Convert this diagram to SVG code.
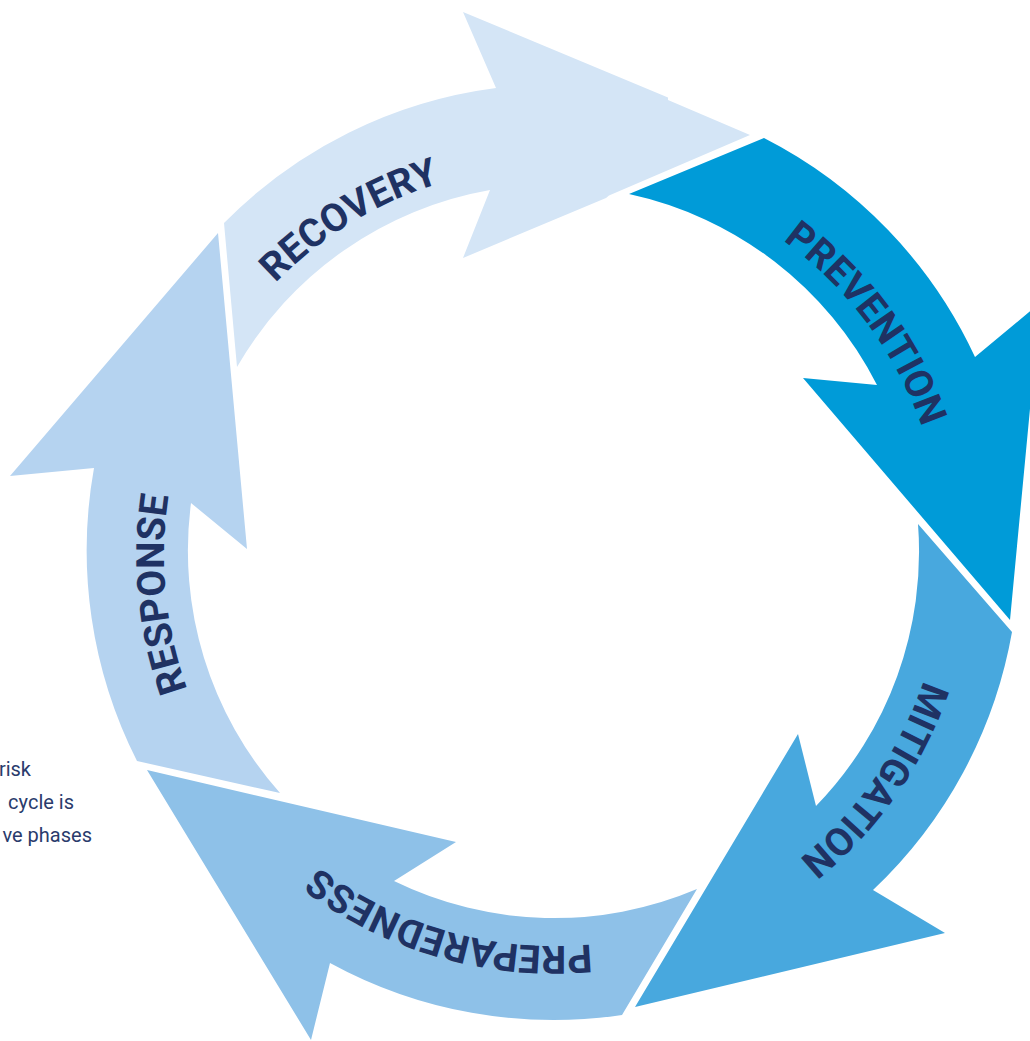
<svg xmlns="http://www.w3.org/2000/svg" xmlns:xlink="http://www.w3.org/1999/xlink" width="1030" height="1041" viewBox="0 0 1030 1041">
  <style>
    .label { font-family: Roboto, "Liberation Sans", sans-serif; font-weight: 700; font-size: 39px; letter-spacing: 0px; fill: #1F3263; }
    .note { font-family: Roboto, "Liberation Sans", sans-serif; font-size: 20px; fill: #2A3B6C; text-anchor: end; }
    .recovery { fill: #D4E5F6; }
    .prevention { fill: #009BD8; }
    .mitigation { fill: #48A8DE; }
    .preparedness { fill: #8EC1E8; }
    .response { fill: #B5D3F0; }
  </style>
  <defs>
    <!-- clockwise baseline circle for the phase labels, centre (554,556) -->
    <path id="ring" d="M944,556 A390,390 0 1,1 164,556 A390,390 0 1,1 944,556"/>
  </defs>

  <rect width="1030" height="1041" fill="#FFFFFF"/>

  <!-- caption lines at the left edge -->
  <g id="caption">
    <text class="note" x="31" y="776">risk</text>
    <text class="note" x="74" y="809">cycle is</text>
    <text class="note" x="92" y="842">ve phases</text>
  </g>

  <g id="response">
    <path class="response" d="M137,761 A466,466 0 0,1 94,468 L10,476 L218,233 L247,549 L191,503 A365,365 0 0,0 280,793 Z"/>
    <text class="label"><textPath xlink:href="#ring" href="#ring" startOffset="1187" text-anchor="middle">RESPONSE</textPath></text>
  </g>

  <g id="recovery">
    <path class="recovery" d="M224,223 A466,466 0 0,1 496,88 L463,12 L668,97.5 L668,100 L750,135 L609,195.5 L606,198 L463,258 L490,190 A365,365 0 0,0 237,367 Z"/>
    <text class="label"><textPath xlink:href="#ring" href="#ring" startOffset="1624" text-anchor="middle">RECOVERY</textPath></text>
  </g>

  <g id="prevention">
    <path class="prevention" d="M764,138 A466,466 0 0,1 975,357 L1040,303 L1010,620 L803,378 L877,385 A365,365 0 0,0 629,194 Z"/>
    <text class="label"><textPath xlink:href="#ring" href="#ring" startOffset="2200" text-anchor="middle">PREVENTION</textPath></text>
  </g>

  <g id="mitigation">
    <path class="mitigation" d="M1012,632 A466,466 0 0,1 873,890 L945,933 L635,1007 L798,734 L816,806 A365,365 0 0,0 918,524 Z"/>
    <text class="label"><textPath xlink:href="#ring" href="#ring" startOffset="237" text-anchor="middle">MITIGATION</textPath></text>
  </g>

  <g id="preparedness">
    <path class="preparedness" d="M622,1015 A466,466 0 0,1 330,963 L311,1040 L147,770 L456,842 L394,881 A365,365 0 0,0 697,889 Z"/>
    <text class="label"><textPath xlink:href="#ring" href="#ring" startOffset="720" text-anchor="middle">PREPAREDNESS</textPath></text>
  </g>

  <!-- the cycle is formed by the arrow shapes themselves; no separate connectors -->
  <g id="connectors"/>
</svg>
